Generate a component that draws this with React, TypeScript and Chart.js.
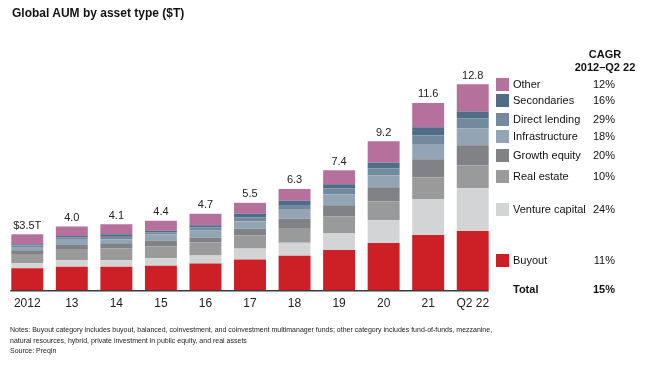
import React, { useEffect, useRef } from "react";
import { Chart, registerables } from "chart.js";

Chart.register(...registerables);

const categories = ["2012", "13", "14", "15", "16", "17", "18", "19", "20", "21", "Q2 22"];
const totalLabels = ["$3.5T", "4.0", "4.1", "4.4", "4.7", "5.5", "6.3", "7.4", "9.2", "11.6", "12.8"];

const buyout = [1.36, 1.46, 1.45, 1.51, 1.65, 1.9, 2.13, 2.5, 2.93, 3.43, 3.68];
const ventureCapital = [0.31, 0.4, 0.41, 0.47, 0.5, 0.68, 0.81, 1.05, 1.42, 2.23, 2.66];
const realEstate = [0.58, 0.7, 0.74, 0.75, 0.81, 0.81, 0.93, 1.05, 1.18, 1.36, 1.43];
const growthEquity = [0.23, 0.25, 0.31, 0.36, 0.31, 0.43, 0.56, 0.68, 0.87, 1.12, 1.24];
const infrastructure = [0.2, 0.37, 0.25, 0.38, 0.45, 0.45, 0.56, 0.68, 0.74, 0.95, 1.05];
const directLending = [0.09, 0.09, 0.21, 0.13, 0.17, 0.24, 0.31, 0.37, 0.43, 0.54, 0.62];
const secondaries = [0.08, 0.09, 0.1, 0.1, 0.14, 0.24, 0.25, 0.25, 0.37, 0.5, 0.43];
const other = [0.62, 0.6, 0.62, 0.62, 0.72, 0.68, 0.74, 0.87, 1.32, 1.51, 1.69];

const seriesNames = ["Buyout", "Venture capital", "Real estate", "Growth equity", "Infrastructure", "Direct lending", "Secondaries", "Other"];
const seriesColors = ["#cc1f26", "#d3d4d6", "#9a9a9a", "#818286", "#93a5b5", "#73899d", "#506c87", "#b5709c"];
const seriesCagr = ["11%", "24%", "10%", "20%", "18%", "29%", "16%", "12%"];
const totalCagr = "15%";

const FONT = '"Liberation Sans", Arial, Helvetica, sans-serif';

// legend row vertical centers (layout only), ordered as seriesNames
const legendRowY = [260, 209, 176, 155, 136, 119, 100, 84];

export default function App() {
  const ref = useRef<HTMLCanvasElement>(null);

  useEffect(() => {
    const seriesData = [buyout, ventureCapital, realEstate, growthEquity, infrastructure, directLending, secondaries, other];
    const topLabels = {
      id: "topLabels",
      afterDatasetsDraw(chart: any) {
        const ctx = chart.ctx;
        const last = chart.getDatasetMeta(chart.data.datasets.length - 1);
        ctx.save();
        ctx.font = `11px ${FONT}`;
        ctx.fillStyle = "#222";
        ctx.textAlign = "center";
        ctx.textBaseline = "bottom";
        last.data.forEach((el: any, i: number) => {
          ctx.fillText(totalLabels[i], el.x, el.y - 3);
        });
        // axis line
        const first = chart.getDatasetMeta(0);
        const a = first.data[0];
        const b = first.data[first.data.length - 1];
        const y = chart.chartArea.bottom + 0.75;
        ctx.strokeStyle = "#3a3a3a";
        ctx.lineWidth = 1.5;
        ctx.beginPath();
        ctx.moveTo(a.x - a.width / 2 - 1, y);
        ctx.lineTo(b.x + b.width / 2, y);
        ctx.stroke();
        ctx.restore();
      },
    };

    const chart = new Chart(ref.current!, {
      type: "bar",
      data: {
        labels: categories,
        datasets: seriesData.map((d, i) => ({
          label: seriesNames[i],
          data: d,
          backgroundColor: seriesColors[i],
          borderWidth: 0,
          categoryPercentage: 1,
          barPercentage: 0.717,
        })),
      },
      options: {
        animation: false,
        responsive: false,
        devicePixelRatio: 1,
        layout: { padding: { left: 5, right: 154, top: 65, bottom: 56.5 } },
        plugins: { legend: { display: false }, tooltip: { enabled: false } },
        scales: {
          x: {
            stacked: true,
            grid: { display: false, drawTicks: false },
            border: { display: false },
            ticks: { color: "#222", font: { family: FONT, size: 12 }, padding: 6 },
          },
          y: { stacked: true, display: false, min: 0, max: 14 },
        },
      },
      plugins: [topLabels],
    });
    return () => chart.destroy();
  }, []);

  const text: React.CSSProperties = { position: "absolute", fontFamily: FONT, color: "#111", whiteSpace: "nowrap" };

  return (
    <div style={{ position: "fixed", left: 0, top: 0, width: 649, height: 373, background: "#fff", overflow: "hidden" }}>
      <canvas ref={ref} width={649} height={373} style={{ position: "absolute", left: 0, top: 0 }} />
      <div style={{ ...text, left: 12, top: 6, fontSize: 12, fontWeight: "bold", lineHeight: "15px" }}>
        Global AUM by asset type ($T)
      </div>
      <div style={{ ...text, left: 565, width: 80, top: 47.5, fontSize: 11, fontWeight: "bold", lineHeight: "13px", textAlign: "center" }}>
        CAGR
        <br />
        2012–Q2 22
      </div>
      {seriesNames.map((name, i) => (
        <React.Fragment key={name}>
          <div style={{ position: "absolute", left: 496, top: legendRowY[i] - 6.5, width: 13, height: 13, background: seriesColors[i] }} />
          <div style={{ ...text, left: 513, top: legendRowY[i] - 7, fontSize: 11, lineHeight: "14px" }}>{name}</div>
          <div style={{ ...text, left: 575, width: 40, textAlign: "right", top: legendRowY[i] - 7, fontSize: 11, lineHeight: "14px" }}>{seriesCagr[i]}</div>
        </React.Fragment>
      ))}
      <div style={{ ...text, left: 513, top: 282, fontSize: 11, fontWeight: "bold", lineHeight: "14px" }}>Total</div>
      <div style={{ ...text, left: 575, width: 40, textAlign: "right", top: 282, fontSize: 11, fontWeight: "bold", lineHeight: "14px" }}>{totalCagr}</div>
      <div style={{ ...text, left: 10, top: 325, fontSize: 7, lineHeight: "10.5px", color: "#222" }}>
        Notes: Buyout category includes buyout, balanced, coinvestment, and coinvestment multimanager funds; other category includes fund-of-funds, mezzanine,
        <br />
        natural resources, hybrid, private investment in public equity, and real assets
        <br />
        Source: Preqin
      </div>
    </div>
  );
}
